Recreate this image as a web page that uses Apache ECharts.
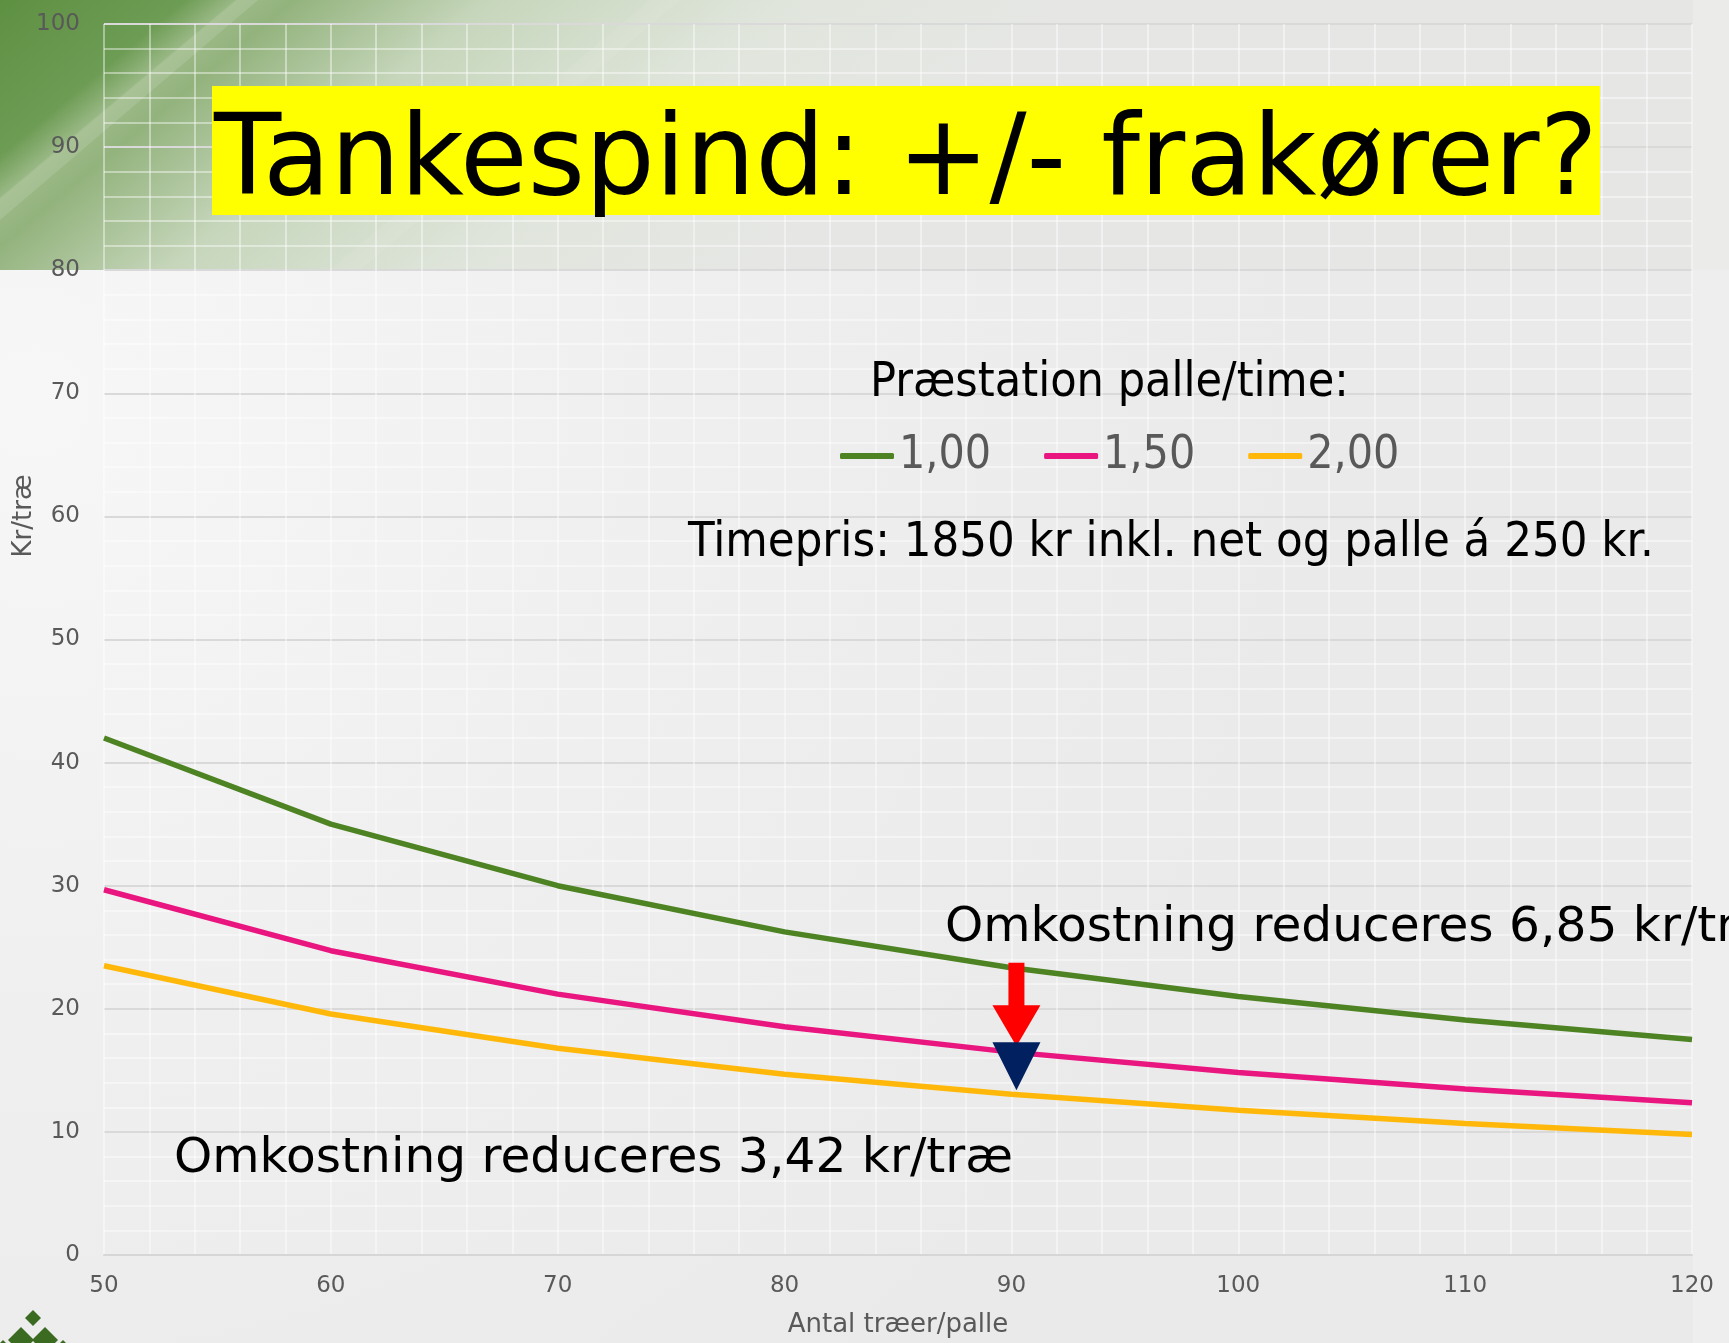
<!DOCTYPE html>
<html><head><meta charset="utf-8">
<script src="https://cdn.jsdelivr.net/npm/echarts@6/dist/echarts.min.js"></script>
<style>html,body{margin:0;padding:0;background:#ececec;overflow:hidden}#c{width:1729px;height:1343px}</style>
</head><body><div id="c"></div>
<script>
// ---- data ----
const xValues   = [50, 60, 70, 80, 90, 100, 110, 120];          // Antal træer/palle
const rate100   = [42.0, 35.0, 30.0, 26.25, 23.33, 21.0, 19.09, 17.5];  // 1,00 palle/time
const rate150   = [29.67, 24.72, 21.19, 18.54, 16.48, 14.83, 13.48, 12.36]; // 1,50
const rate200   = [23.5, 19.58, 16.79, 14.69, 13.06, 11.75, 10.68, 9.79];   // 2,00
const seriesNames = ['1,00', '1,50', '2,00'];
const seriesColors = ['#4e8323', '#ea1680', '#ffb80a'];
const yRange = [0, 100];
const xRange = [50, 120];
const arrowX = 90;

const FONT = '"DejaVu Sans", Verdana, sans-serif';
const FONTC = '"DejaVu Sans Condensed", "DejaVu Sans", sans-serif';

const chart = echarts.init(document.getElementById('c'), null, {renderer: 'canvas', width: 1729, height: 1343});

const gridLineWhite = {color: 'rgba(255,255,255,0.42)', width: 2};
const seriesData = [rate100, rate150, rate200];

const option = {
  animation: false,
  backgroundColor: '#ececec',
  grid: {left: 104, right: 37, top: 24, bottom: 86, containLabel: false},
  legend: {
    data: seriesNames,
    left: 835, top: 428,
    icon: 'roundRect', itemWidth: 54, itemHeight: 6, itemGap: 53,
    textStyle: {color: '#595959', fontSize: 46, fontFamily: FONTC}
  },
  xAxis: {
    type: 'value', min: xRange[0], max: xRange[1], interval: 10,
    axisLine: {show: true, lineStyle: {color: '#d6d6d6', width: 2}},
    axisTick: {show: false},
    minorTick: {show: false, splitNumber: 5},
    axisLabel: {color: '#595959', fontSize: 23, fontFamily: FONT, margin: 20},
    splitLine: {show: true, lineStyle: gridLineWhite},
    minorSplitLine: {show: true, lineStyle: gridLineWhite},
    name: 'Antal træer/palle', nameLocation: 'middle', nameGap: 57,
    nameTextStyle: {color: '#595959', fontSize: 26, fontFamily: FONT}
  },
  yAxis: {
    type: 'value', min: yRange[0], max: yRange[1], interval: 10,
    axisLine: {show: false}, axisTick: {show: false},
    minorTick: {show: false, splitNumber: 5},
    axisLabel: {color: '#595959', fontSize: 23, fontFamily: FONT, margin: 24},
    splitLine: {show: true, lineStyle: {color: '#d9d9d9', width: 2}},
    minorSplitLine: {show: true, lineStyle: gridLineWhite}
  },
  series: seriesNames.map((n, k) => ({
    name: n, type: 'line', showSymbol: false, symbol: 'none',
    data: xValues.map((x, i) => [x, seriesData[k][i]]),
    lineStyle: {color: seriesColors[k], width: 5.5},
    itemStyle: {color: seriesColors[k]},
    z: 3
  }))
};
chart.setOption(option);

// ---- decoration & annotations ----
const px = (x, y) => chart.convertToPixel({gridIndex: 0}, [x, y]);
const i90 = xValues.indexOf(arrowX);
const ax = px(arrowX, 0)[0] + 5;
const gY = px(arrowX, rate100[i90])[1];
const pY = px(arrowX, rate150[i90])[1];
const yY = px(arrowX, rate200[i90])[1];

// measure title to fit the yellow box
const cv = document.createElement('canvas').getContext('2d');
cv.font = '113px ' + FONT;
const titleText = 'Tankespind: +/- frakører?';
const tw = cv.measureText(titleText).width;
const titleScale = 1384 / tw;

function txt(x, y, text, font, fill, extra) {
  return Object.assign({
    type: 'text', x: x, y: y, z: 50, silent: true,
    style: {text: text, font: font, fill: fill, textAlign: 'left', align: 'left', textVerticalAlign: 'middle', verticalAlign: 'middle'}
  }, extra || {});
}
function diamond(cx, cy, r, color) {
  return {type: 'polygon', z: 40, silent: true, shape: {points: [[cx, cy - r], [cx + r, cy], [cx, cy + r], [cx - r, cy]]}, style: {fill: color}};
}

const redTop = gY - 5, redTip = pY - 6, redBase = redTip - 41;
const navTop = redTip - 4, navTip = yY - 4;

chart.setOption({
  graphic: {elements: [
    // backgrounds
    {type: 'rect', z: -100, silent: true, shape: {x: 0, y: 0, width: 1729, height: 1343},
      style: {fill: new echarts.graphic.RadialGradient(0.02, 0.3, 0.95, [{offset: 0, color: '#f7f7f7'}, {offset: 0.5, color: '#efefef'}, {offset: 1, color: '#eaeaea'}])}},
    {type: 'rect', z: -99, silent: true, shape: {x: 0, y: 0, width: 1729, height: 270},
      style: {fill: new echarts.graphic.LinearGradient(0, 0, 450, 536, [
        {offset: 0, color: '#5e9042'}, {offset: 0.17, color: '#6d9c54'}, {offset: 0.22, color: '#9cba88'},
        {offset: 0.27, color: '#93b37d'}, {offset: 0.45, color: '#c6d6bb'}, {offset: 0.72, color: '#e0e5dc'},
        {offset: 1, color: '#e6e7e5'}], true)}},
    {type: 'polygon', z: -98, silent: true, shape: {points: [[0, 198], [0, 220], [258, 0], [236, 0]]}, style: {fill: 'rgba(255,255,255,0.12)'}},
    {type: 'polygon', z: -98, silent: true, shape: {points: [[330, 270], [360, 270], [680, 0], [650, 0]]}, style: {fill: 'rgba(255,255,255,0.08)'}},
    {type: 'rect', z: -97, silent: true, shape: {x: 1693, y: 0, width: 36, height: 1343}, style: {fill: 'rgba(255,255,255,0.2)'}},
    // title
    {type: 'rect', z: 45, silent: true, shape: {x: 212, y: 86, width: 1388, height: 129}, style: {fill: '#ffff00'}},
    {type: 'text', z: 50, silent: true, x: 906, y: 165, scaleX: titleScale, originX: 0, originY: 0,
      style: {text: titleText, font: '113px ' + FONT, fill: '#000', textAlign: 'center', align: 'center', textVerticalAlign: 'middle', verticalAlign: 'middle'}},
    // legend header and note
    txt(870, 384, 'Præstation palle/time:', '48px ' + FONTC, '#000'),
    txt(688, 543, 'Timepris: 1850 kr inkl. net og palle á 250 kr.', '48.5px ' + FONTC, '#000'),
    // annotations
    txt(945, 928, 'Omkostning reduceres 6,85 kr/træ', '48.6px ' + FONT, '#000'),
    txt(174, 1159, 'Omkostning reduceres 3,42 kr/træ', '48.6px ' + FONT, '#000'),
    // y axis title
    {type: 'text', z: 50, silent: true, x: 24, y: 516, rotation: Math.PI / 2,
      style: {text: 'Kr/træ', font: '26px ' + FONT, fill: '#595959', textAlign: 'center', align: 'center', textVerticalAlign: 'middle', verticalAlign: 'middle'}},
    // arrows
    {type: 'polygon', z: 60, silent: true, shape: {points: [[ax - 8, redTop], [ax + 8, redTop], [ax + 8, redBase], [ax + 24, redBase], [ax, redTip], [ax - 24, redBase], [ax - 8, redBase]]}, style: {fill: '#ff0000'}},
    {type: 'polygon', z: 61, silent: true, shape: {points: [[ax - 24, navTop], [ax + 24, navTop], [ax, navTip]]}, style: {fill: '#002060'}},
    // logo
    diamond(33, 1318, 8, '#3b6b20'),
    diamond(21, 1340, 13, '#3b6b20'),
    diamond(45, 1340, 13, '#3b6b20'),
    diamond(3, 1352, 12, '#3b6b20'),
    diamond(63, 1352, 12, '#3b6b20'),
    diamond(33, 1356, 12, '#2f5a18')
  ]}
});
</script>
</body></html>
